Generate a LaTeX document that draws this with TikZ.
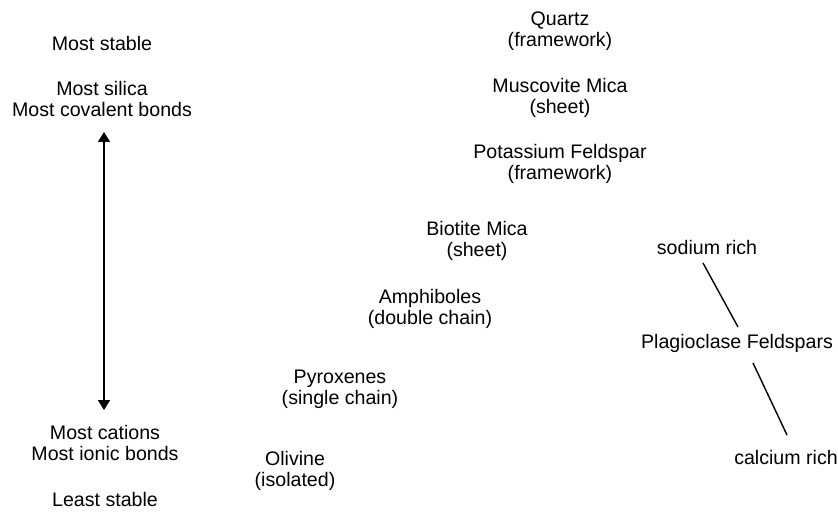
\documentclass[tikz,border=0pt]{standalone}
\usepackage{fontspec}
\setmainfont{Liberation Sans}
\usetikzlibrary{arrows.meta,positioning,calc}
\tikzset{
  lbl/.style={align=center, inner sep=0pt, font=\fontsize{9.8}{10.6}\selectfont},
  mineral/.style={lbl},
  scalearrow/.style={{Triangle[width=6pt,length=5pt]}-{Triangle[width=6pt,length=5pt]}, line width=0.9pt},
  tie/.style={line width=0.7pt}
}

\begin{document}
\begin{tikzpicture}[x=0.5pt, y=-0.5pt]
  \useasboundingbox (0,0) rectangle (838,513);
  % left scale
  \node[lbl] (stable) at (102,43) {Most stable};
  \node[lbl] (silica) at (102,99) {Most silica\\Most covalent bonds};
  \node[lbl] (cations) at (105,443) {Most cations\\Most ionic bonds};
  \node[lbl] (least) at (105,499) {Least stable};
  \draw[scalearrow] ($(silica)+(2,33)$) -- ($(cations)+(-1,-33)$);
  % Bowen's series, discontinuous branch
  \node[mineral] (quartz) at (560,31) {Quartz\\(framework)};
  \node[mineral] (musc) at (560,98) {Muscovite Mica\\(sheet)};
  \node[mineral] (kspar) at (560,164) {Potassium Feldspar\\(framework)};
  \node[mineral] (biotite) at (477,241) {Biotite Mica\\(sheet)};
  \node[mineral] (amph) at (430,309) {Amphiboles\\(double chain)};
  \node[mineral] (pyrox) at (340,389) {Pyroxenes\\(single chain)};
  \node[mineral] (olivine) at (295,471) {Olivine\\(isolated)};
  % continuous branch
  \node[lbl] (sodium) at (707,247) {sodium rich};
  \node[lbl] (plag) at (737,343) {Plagioclase Feldspars};
  \node[lbl] (calcium) at (786,457) {calcium rich};
  \draw[tie] ($(sodium)+(-4,16)$) -- ($(plag)+(1,-16)$);
  \draw[tie] ($(plag)+(16,20)$) -- ($(calcium)+(1,-22)$);
\end{tikzpicture}
\end{document}
